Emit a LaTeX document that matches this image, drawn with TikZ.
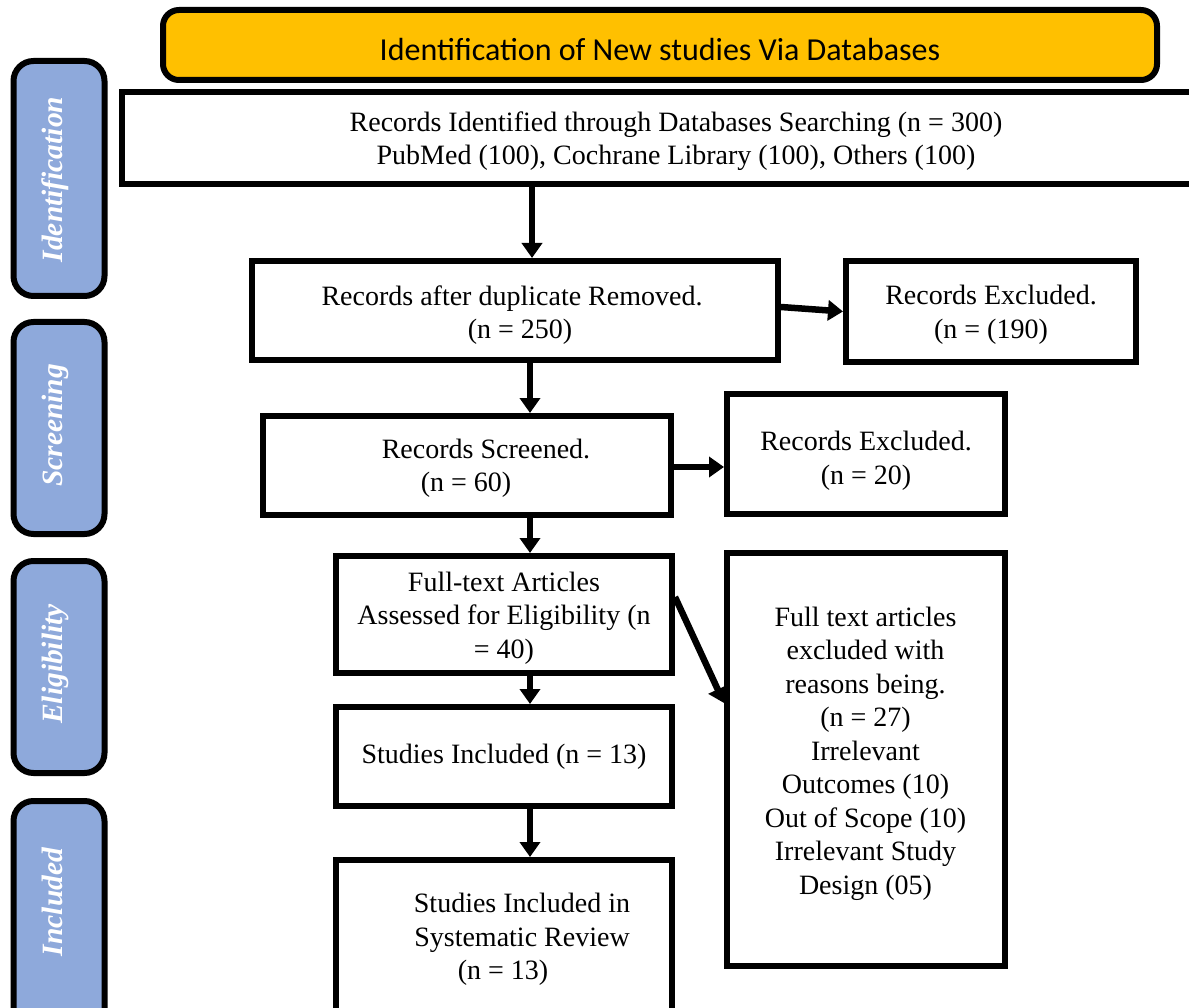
\documentclass[tikz,border=0pt]{standalone}
\usepackage{fontspec}
\setmainfont{Liberation Serif}
\newfontfamily\bannerfont{Carlito}
\usetikzlibrary{arrows.meta}
\definecolor{bannerfill}{HTML}{FFC000}
\definecolor{sidefill}{HTML}{8EA9DB}
\begin{document}
\begin{tikzpicture}[x=1pt,y=-1pt,
  box/.style={draw,line width=6pt,fill=white,inner sep=0pt},
  txt/.style={align=center,inner sep=0pt,font=\fontsize{28}{33.5}\selectfont},
  sidebox/.style={draw,line width=6pt,fill=sidefill,rounded corners=20pt,inner sep=0pt,
    minimum width=91pt},
  sidetext/.style={text=white,font=\fontsize{29.5}{30}\selectfont\bfseries\itshape,rotate=90,anchor=base},
  banner/.style={draw,line width=6pt,fill=bannerfill,rounded corners=16pt,inner sep=0pt},
  bannertext/.style={inner sep=0pt,font=\bannerfont\fontsize{32}{36}\selectfont},
  flow/.style={line width=6.5pt,-{Triangle[length=15pt,width=20pt]}}]
\useasboundingbox (0,0) rectangle (1189,1008);
\fill[white] (0,0) rectangle (1189,1008);
% side labels
\node[sidebox,minimum height=235pt] (sid) at (59,178.5) {};
\node[sidetext] (sidt) at (62,179.5) {Identification};
\node[sidebox,minimum height=212pt] (sscr) at (59,428) {};
\node[sidetext] (sscrt) at (62,425.5) {Screening};
\node[sidebox,minimum height=212pt] (selig) at (59,667) {};
\node[sidetext] (seligt) at (62,664) {Eligibility};
\node[sidebox,minimum height=246pt] (sinc) at (59,924) {};
\node[sidetext] (sinct) at (62,902) {Included};
% banner
\node[banner,minimum width=994pt,minimum height=70pt] (ban) at (660,45) {};
\node[bannertext] (bant) at (660,50) {Identification of New studies Via Databases};
% boxes
\node[box,minimum width=1078pt,minimum height=92pt] (rec1) at (661,138) {};
\node[txt] (rec1t) at (676,141)
  {Records Identified through Databases Searching (n = 300)\\
   PubMed (100), Cochrane Library (100), Others (100)};
\node[box,minimum width=526pt,minimum height=99pt] (rec2) at (515,310.5) {};
\node[txt] (rec2t) at (512,315)
  {Records after duplicate Removed.\\\hspace*{16pt}(n = 250)};
\node[box,minimum width=290pt,minimum height=101pt] (exc1) at (991,311.5) {};
\node[txt] (exc1t) at (991,315) {Records Excluded.\\(n = (190)};
\node[box,minimum width=408pt,minimum height=99pt] (scr) at (467,465.5) {};
\node[txt] (scrt) at (476,468.5)
  {\hspace*{20pt}Records Screened.\\\hspace*{-20pt}(n = 60)};
\node[box,minimum width=278pt,minimum height=120pt] (exc2) at (866,454) {};
\node[txt] (exc2t) at (866,461) {Records Excluded.\\(n = 20)};
\node[box,minimum width=336pt,minimum height=117pt] (full) at (504,614.5) {};
\node[txt] (fullt) at (504,618)
  {Full-text Articles\\Assessed for Eligibility (n\\= 40)};
\node[box,minimum width=278pt,minimum height=413pt] (exc3) at (866,759.5) {};
\node[txt] (exc3t) at (865.5,753.5)
  {Full text articles\\excluded with\\reasons being.\\(n = 27)\\Irrelevant\\Outcomes (10)\\Out of Scope (10)\\Irrelevant Study\\Design (05)};
\node[box,minimum width=336pt,minimum height=99pt] (inc) at (504,756.5) {};
\node[txt] (inct) at (504,757) {Studies Included (n = 13)};
\node[box,minimum width=336pt,minimum height=167pt] (sys) at (504,943.5) {};
\node[txt] (syst) at (512,939.5)
  {\hspace*{20pt}Studies Included in\\\hspace*{20pt}Systematic Review\\\hspace*{-18pt}(n = 13)};
% connectors
\coordinate (ax) at (532,0);
\coordinate (ax2) at (530,0);
\draw[flow] (rec1.south -| ax) -- (rec2.north -| ax);
\draw[flow] ([yshift=3.5pt]rec2.east) -- (exc1.west);
\draw[flow] (rec2.south -| ax2) -- (scr.north -| ax2);
\draw[flow] ([yshift=-1.5pt]scr.east) -- ([yshift=-1.5pt]scr.east -| exc2.west);
\draw[flow] (scr.south -| ax2) -- (full.north -| ax2);
\draw[flow] ([yshift=17.5pt]full.east) -- ([yshift=56.5pt]exc3.west);
\draw[flow] (full.south -| ax2) -- (inc.north -| ax2);
\draw[flow] (inc.south -| ax2) -- (sys.north -| ax2);
\end{tikzpicture}
\end{document}
